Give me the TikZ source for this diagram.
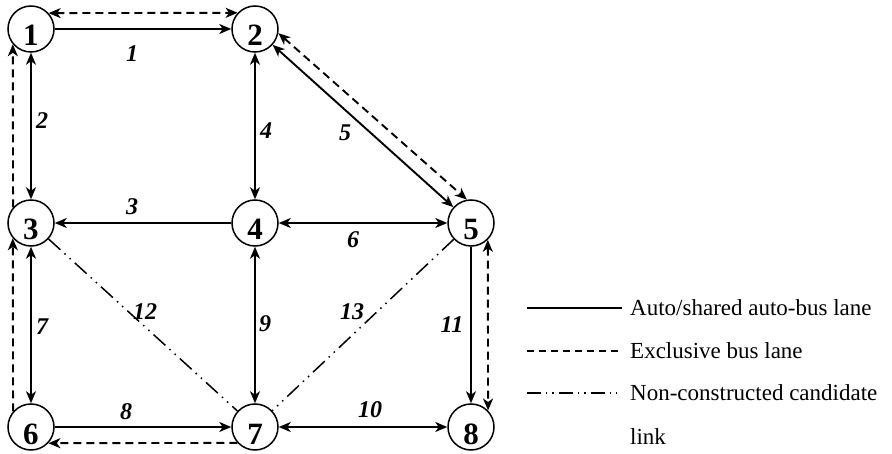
\documentclass[tikz,border=0pt]{standalone}
\usepackage{fontspec}
\setmainfont{Liberation Serif}
\usetikzlibrary{arrows.meta}
\begin{document}
\begin{tikzpicture}[x=1pt,y=-1pt,
  >={Stealth[length=12pt,width=10pt,inset=3.5pt]},
  town/.style={circle,draw,line width=1.5pt,minimum size=46pt,inner sep=0pt,
    text height=34pt,text depth=0pt,font=\fontsize{31}{33}\selectfont\bfseries},
  linkno/.style={inner sep=0pt,font=\fontsize{24}{26}\selectfont\bfseries\itshape},
  autolane/.style={line width=1.9pt},
  buslane/.style={line width=1.9pt,dash pattern=on 8pt off 5pt},
  candlane/.style={line width=1.5pt,dash pattern=on 16pt off 5.5pt on 1.5pt off 5.5pt on 1.5pt off 5.5pt},
  legtext/.style={anchor=west,inner sep=0pt,font=\fontsize{23}{26}\selectfont},
]
\useasboundingbox (0,0) rectangle (892,454);
% nodes
\node[town] (n1) at (31,29) {1};
\node[town] (n2) at (255,29) {2};
\node[town] (n3) at (31,223) {3};
\node[town] (n4) at (255,223) {4};
\node[town] (n5) at (471,223) {5};
\node[town] (n6) at (31,427) {6};
\node[town] (n7) at (255,427) {7};
\node[town] (n8) at (471,427) {8};
% links
\draw[autolane,->] (n1) -- (n2);
\draw[buslane,<->] (n1.42.35) -- (n2.137.65);
\draw[autolane,<->] (n1) -- (n3);
\draw[buslane,->] (n3.139.3) -- (n1.220.7);
\draw[autolane,<->] (n2) -- (n4);
\draw[autolane,<->] (n2) -- (n5);
\draw[buslane,<->] (n2.350) -- (n5.100);
\draw[autolane,->] (n4) -- (n3);
\draw[autolane,<->] (n4) -- (n5);
\draw[autolane,<->] (n3) -- (n6);
\draw[buslane,->] (n6.139.3) -- (n3.220.7);
\draw[candlane] (n3) -- (n7);
\draw[autolane,<->] (n4) -- (n7);
\draw[candlane] (n5) -- (n7);
\draw[autolane,->] (n5) -- (n8);
\draw[buslane,<->] (n5.315.7) -- (n8.44.3);
\draw[autolane,->] (n6) -- (n7);
\draw[buslane,->] (n7.222.35) -- (n6.317.65);
\draw[autolane,<->] (n7) -- (n8);
% link numbers
\node[linkno] (k1) at (132,54) {1};
\node[linkno] (k2) at (42,121) {2};
\node[linkno] (k3) at (132,207) {3};
\node[linkno] (k4) at (266,131) {4};
\node[linkno] (k5) at (345,133) {5};
\node[linkno] (k6) at (353,240) {6};
\node[linkno] (k7) at (42,327) {7};
\node[linkno] (k8) at (126,412) {8};
\node[linkno] (k9) at (265,324) {9};
\node[linkno] (k10) at (370,410) {10};
\node[linkno] (k11) at (452,325) {11};
\node[linkno] (k12) at (145,312) {12};
\node[linkno] (k13) at (352,312) {13};
% legend
\coordinate (la1) at (527,308); \coordinate (lb1) at (622,308);
\coordinate (la2) at (527,351); \coordinate (lb2) at (622,351);
\coordinate (la3) at (527,393); \coordinate (lb3) at (622,393);
\draw[line width=1.4pt] (la1) -- (lb1);
\draw[line width=1.4pt,dash pattern=on 7pt off 5pt] (la2) -- (lb2);
\draw[line width=1.4pt,dash pattern=on 14pt off 5pt on 1.4pt off 5pt on 1.4pt off 5pt] (la3) -- (lb3);
\node[legtext] (t1) at (630,308) {Auto/shared auto-bus lane};
\node[legtext] (t2) at (630,351) {Exclusive bus lane};
\node[legtext] (t3) at (630,393) {Non-constructed candidate};
\node[legtext] (t4) at (630,437) {link};
\end{tikzpicture}
\end{document}
